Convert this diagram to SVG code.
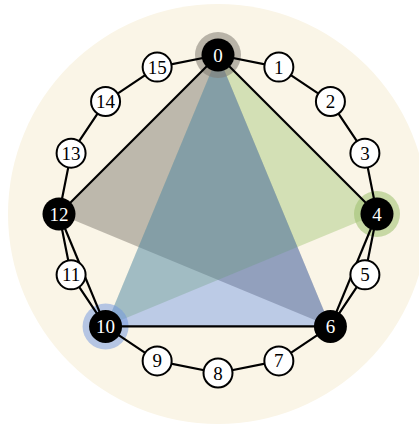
<svg xmlns="http://www.w3.org/2000/svg" width="419" height="425" viewBox="0 0 419 425">
<style>
.edge{stroke:#000;stroke-width:2.2;fill:none;stroke-linejoin:round}
.wn{fill:#fff;stroke:#000;stroke-width:2}
.bn{fill:#000}
.wt{font-family:"Liberation Serif","Times New Roman",serif;font-size:19px;text-anchor:middle;fill:#000}
.bt{font-family:"Liberation Serif","Times New Roman",serif;font-size:19px;text-anchor:middle;fill:#fff}
</style>
<rect width="419" height="425" fill="#fff"/>
<circle cx="218" cy="214" r="210" fill="#faf5e7"/>
<g id="triangles">
<polygon id="tri-gray" points="218,55 59,214 330.43,326.43" fill="#312c25" fill-opacity="0.3"/>
<polygon id="tri-green" points="218,55 377,214 105.57,326.43" fill="#7aae43" fill-opacity="0.3"/>
<polygon id="tri-blue" points="218,55 105.57,326.43 330.43,326.43" fill="#2e6be6" fill-opacity="0.3"/>
</g>
<g id="halos">
<circle cx="218" cy="55" r="23" fill="#817c72" fill-opacity="0.55"/>
<circle cx="377" cy="214" r="23" fill="#9cc06e" fill-opacity="0.55"/>
<circle cx="105.57" cy="326.43" r="23" fill="#6f96e0" fill-opacity="0.5"/>
</g>
<g id="connectors">
<polygon class="edge" points="218,55 278.85,67.1 330.43,101.57 364.9,153.15 377,214 364.9,274.85 330.43,326.43 278.85,360.9 218,373 157.15,360.9 105.57,326.43 71.1,274.85 59,214 71.1,153.15 105.57,101.57 157.15,67.1"/>
<line class="edge" x1="218" y1="55" x2="377" y2="214"/>
<line class="edge" x1="218" y1="55" x2="59" y2="214"/>
<line class="edge" x1="377" y1="214" x2="330.43" y2="326.43"/>
<line class="edge" x1="330.43" y1="326.43" x2="105.57" y2="326.43"/>
<line class="edge" x1="105.57" y1="326.43" x2="59" y2="214"/>
</g>
<g id="n0"><circle class="bn" cx="218" cy="55" r="16.5"/><text class="bt" x="218" y="61.5">0</text></g>
<g id="n1"><circle class="wn" cx="278.85" cy="67.1" r="14.5"/><text class="wt" x="278.85" y="73.6">1</text></g>
<g id="n2"><circle class="wn" cx="330.43" cy="101.57" r="14.5"/><text class="wt" x="330.43" y="108.07">2</text></g>
<g id="n3"><circle class="wn" cx="364.9" cy="153.15" r="14.5"/><text class="wt" x="364.9" y="159.65">3</text></g>
<g id="n4"><circle class="bn" cx="377" cy="214" r="16.5"/><text class="bt" x="377" y="220.5">4</text></g>
<g id="n5"><circle class="wn" cx="364.9" cy="274.85" r="14.5"/><text class="wt" x="364.9" y="281.35">5</text></g>
<g id="n6"><circle class="bn" cx="330.43" cy="326.43" r="16.5"/><text class="bt" x="330.43" y="332.93">6</text></g>
<g id="n7"><circle class="wn" cx="278.85" cy="360.9" r="14.5"/><text class="wt" x="278.85" y="367.4">7</text></g>
<g id="n8"><circle class="wn" cx="218" cy="373" r="14.5"/><text class="wt" x="218" y="379.5">8</text></g>
<g id="n9"><circle class="wn" cx="157.15" cy="360.9" r="14.5"/><text class="wt" x="157.15" y="367.4">9</text></g>
<g id="n10"><circle class="bn" cx="105.57" cy="326.43" r="16.5"/><text class="bt" x="105.57" y="332.93">10</text></g>
<g id="n11"><circle class="wn" cx="71.1" cy="274.85" r="14.5"/><text class="wt" x="71.1" y="281.35">11</text></g>
<g id="n12"><circle class="bn" cx="59" cy="214" r="16.5"/><text class="bt" x="59" y="220.5">12</text></g>
<g id="n13"><circle class="wn" cx="71.1" cy="153.15" r="14.5"/><text class="wt" x="71.1" y="159.65">13</text></g>
<g id="n14"><circle class="wn" cx="105.57" cy="101.57" r="14.5"/><text class="wt" x="105.57" y="108.07">14</text></g>
<g id="n15"><circle class="wn" cx="157.15" cy="67.1" r="14.5"/><text class="wt" x="157.15" y="73.6">15</text></g>
</svg>
